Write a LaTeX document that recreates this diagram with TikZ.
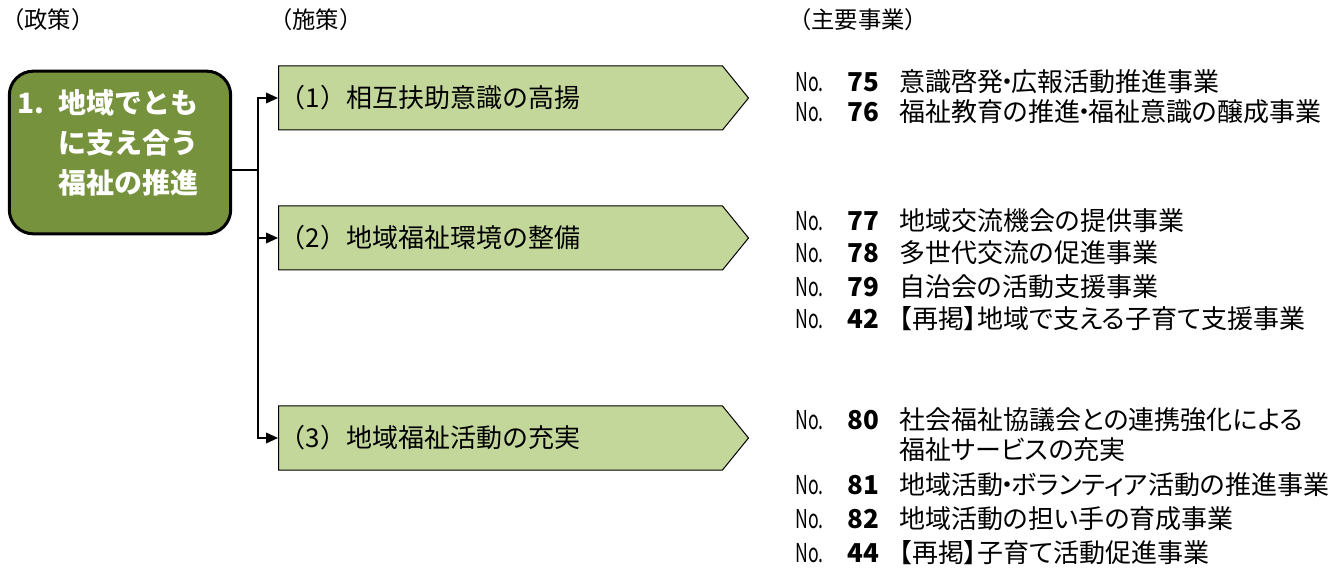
\documentclass[tikz,border=0pt]{standalone}
\usepackage{fontspec}
\setmainfont{Noto Sans CJK JP}
\newfontfamily\propfont[RawFeature=+palt]{Noto Sans CJK JP}
\usepackage{graphicx}
\usetikzlibrary{arrows.meta}
\usetikzlibrary{shapes.symbols}
\definecolor{seisakuGreen}{RGB}{118,146,60}
\definecolor{shisakuGreen}{RGB}{196,215,155}
\tikzstyle{midashi}=[anchor=west, inner sep=0pt, font=\fontsize{17.5}{20}\selectfont]
\tikzstyle{seisaku}=[draw=black, line width=2.25pt, fill=seisakuGreen, rounded corners=18pt, minimum width=166pt, minimum height=122pt]
\tikzstyle{shisaku}=[signal, signal to=east, signal pointer angle=101.8, draw=black, line width=0.75pt, fill=shisakuGreen, anchor=west, text width=331pt, inner xsep=1pt, minimum height=48pt, align=left, font=\fontsize{19.5}{23}\selectfont]
\tikzstyle{yajirushi}=[line width=1.2pt, -{Triangle[length=9pt,width=8pt]}]
\tikzstyle{bango}=[anchor=west, inner sep=0pt, font=\propfont\fontsize{19.5}{22}\selectfont]
\newcommand{\nolabel}{\scalebox{0.68}[1]{No.}}
\newcommand{\naka}{\kern-0.1em・\kern-0.1em}

\begin{document}
\begin{tikzpicture}[x=0.75pt, y=-0.75pt]
	\useasboundingbox (0,0) rectangle (1342,573);
	%\draw[help lines, step=100] (0,0) grid (1342,573);

	\node[midashi] (h1) at (1,20) {（政策）};%headers
	\node[midashi] (h2) at (269,20) {（施策）};
	\node[midashi] (h3) at (788,20) {（主要事業）};

	\node[seisaku] (pol) at (120,152.5) {};%policy
	\node[anchor=west, inner sep=0pt, align=left, text=white, font=\fontsize{21}{30}\selectfont\bfseries] (poltxt) at (17,143)
		{\makebox[31pt][l]{1.}地域でとも\\\hspace*{31pt}に支え合う\\\hspace*{31pt}福祉の推進};

	\node[shisaku] (saku1) at (278,98) {（1）相互扶助意識の高揚};%measures
	\node[shisaku] (saku2) at (278,238) {（2）地域福祉環境の整備};
	\node[shisaku] (saku3) at (278,438) {（3）地域福祉活動の充実};

	\coordinate (bunki) at (258,170);
	\draw[line width=1.2pt] (pol.east |- bunki) -- (bunki);
	\draw[yajirushi] (bunki) |- (saku1.west);
	\draw[yajirushi] (bunki) |- (saku2.west);
	\draw[yajirushi] (bunki) |- (saku3.west);

	% main projects
	\foreach \y/\n/\t in {82/75/意識啓発\naka 広報活動推進事業, 112/76/福祉教育の推進\naka 福祉意識の醸成事業,
		221/77/地域交流機会の提供事業, 253/78/多世代交流の促進事業, 287/79/自治会の活動支援事業,
		319/42/【再掲】地域で支える子育て支援事業,
		420/80/社会福祉協議会との連携強化による, 485/81/地域活動\naka ボランティア活動の推進事業,
		519/82/地域活動の担い手の育成事業, 553/44/【再掲】子育て活動促進事業}{
		\node[bango] (no\n) at (795,\y) {\nolabel};
		\node[bango, font=\propfont\fontsize{19.5}{22}\selectfont\bfseries] (num\n) at (847,\y) {\n};
		\node[bango] (jigyo\n) at (899,\y) {\t};
	}
	\node[bango] (jigyo80b) at (899,450) {福祉サービスの充実};
\end{tikzpicture}
\end{document}
